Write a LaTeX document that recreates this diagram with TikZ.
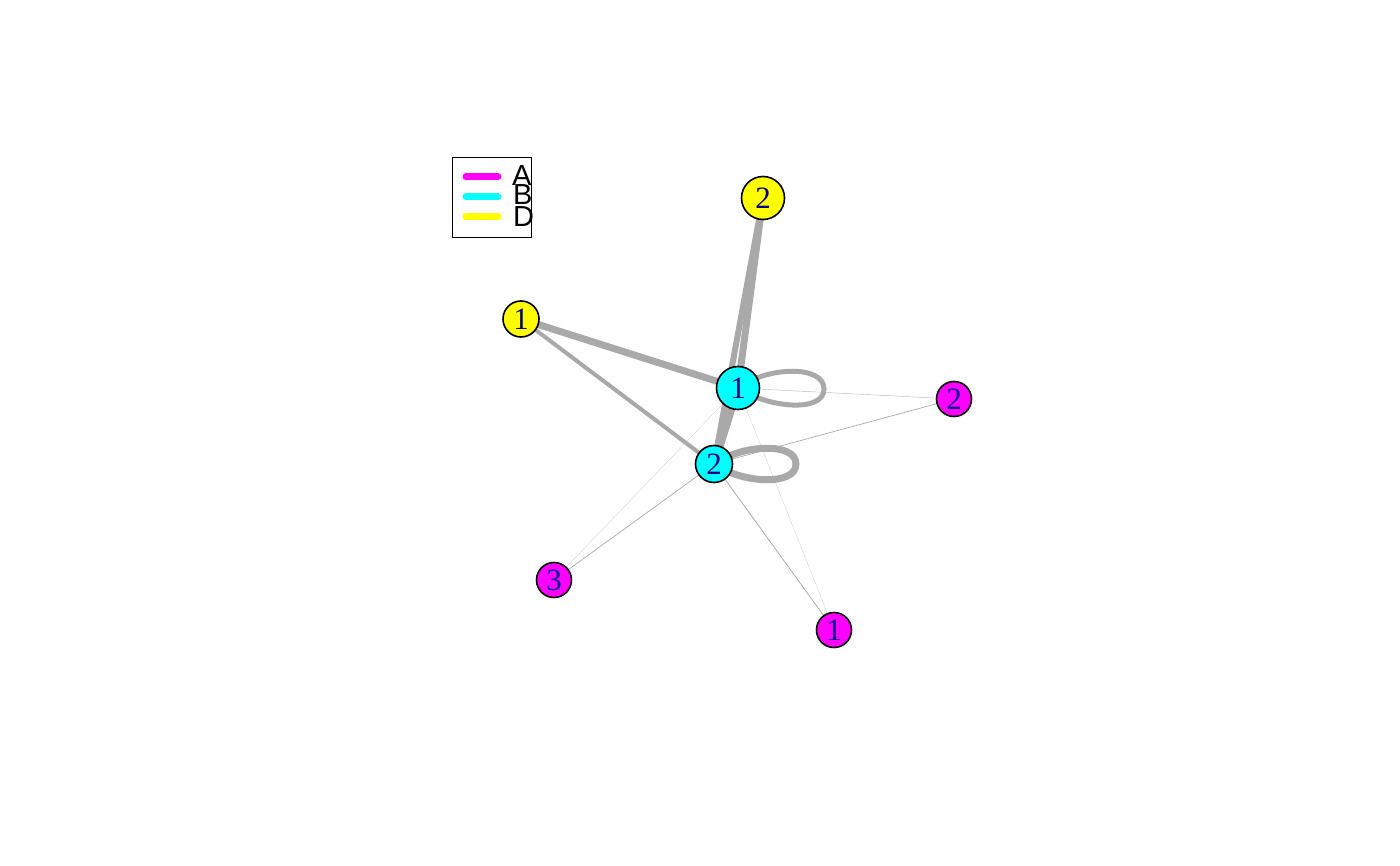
\documentclass[tikz,border=0pt]{standalone}
\usepackage{fontspec}
\setmainfont{Liberation Serif}
\newfontfamily\legfont{Liberation Sans}
\usetikzlibrary{backgrounds}
\definecolor{edgegray}{HTML}{A9A9A9}
\definecolor{labblue}{HTML}{00008B}
\definecolor{vmag}{HTML}{FF00FF}
\definecolor{vcyan}{HTML}{00FFFF}
\definecolor{vyel}{HTML}{FFFF00}
\tikzset{
  vert/.style={circle, draw=black, line width=1.6pt, inner sep=0pt, text=labblue,
    font=\fontsize{31}{31}\selectfont},
  edge/.style={draw=edgegray, line cap=butt},
  legline/.style={line width=7pt, line cap=round},
  legtext/.style={anchor=west, inner sep=0pt, font=\legfont\fontsize{29}{29}\selectfont}
}
\begin{document}
\begin{tikzpicture}[x=1pt, y=-1pt]
\useasboundingbox (0,0) rectangle (1400,866);
% vertices
\node[vert, fill=vyel, minimum size=43pt] (Y2) at (763,198) {2};
\node[vert, fill=vyel, minimum size=36pt] (Y1) at (521,319) {1};
\node[vert, fill=vcyan, minimum size=43pt] (C1) at (738,388) {1};
\node[vert, fill=vcyan, minimum size=37pt] (C2) at (714,464) {2};
\node[vert, fill=vmag, minimum size=35pt] (M2) at (954,399) {2};
\node[vert, fill=vmag, minimum size=35pt] (M3) at (554,580) {3};
\node[vert, fill=vmag, minimum size=35pt] (M1) at (834,630) {1};
% edges
\begin{scope}[on background layer]
\draw[edge, line width=0.35pt, draw=edgegray!55] (C1.center) -- (M3.center);
\draw[edge, line width=0.35pt, draw=edgegray!55] (C1.center) -- (M1.center);
\draw[edge, line width=0.45pt, draw=edgegray!80] (C1.center) -- (M2.center);
\draw[edge, line width=0.7pt] (C2.center) -- (M2.center);
\draw[edge, line width=0.7pt] (C2.center) -- (M3.center);
\draw[edge, line width=0.8pt] (C2.center) -- (M1.center);
\draw[edge, line width=4pt] (Y1.center) -- (C2.center);
\draw[edge, line width=7pt] (Y1.center) -- (C1.center);
\draw[edge, line width=7pt] (Y2.center) -- (C1.center);
\draw[edge, line width=6pt] (Y2.center) -- (C2.center);
\draw[edge, line width=8pt] (C1.center) -- (C2.center);
\draw[edge, line width=5pt] (C1.center) .. controls +(30,-22) and +(0,-24) .. ++(86,1)
  .. controls +(0,24) and +(30,20) .. (C1.center);
\draw[edge, line width=7pt] (C2.center) .. controls +(29,-20) and +(0,-22) .. ++(82,0)
  .. controls +(0,22) and +(29,20) .. (C2.center);
\end{scope}
% legend
\node[draw=black, line width=1.2pt, minimum width=79pt, minimum height=80pt, inner sep=0pt, anchor=north west] (legbox) at (452,157) {};
\coordinate (la1) at (466,177); \coordinate (la2) at (498,177);
\coordinate (lb1) at (466,197); \coordinate (lb2) at (498,197);
\coordinate (ld1) at (466,217); \coordinate (ld2) at (498,217);
\draw[legline, vmag] (la1) -- (la2);
\draw[legline, vcyan] (lb1) -- (lb2);
\draw[legline, vyel] (ld1) -- (ld2);
\node[legtext] (lA) at (512,176) {A};
\node[legtext] (lB) at (513,195) {B};
\node[legtext] (lD) at (513,217) {D};
\end{tikzpicture}
\end{document}
